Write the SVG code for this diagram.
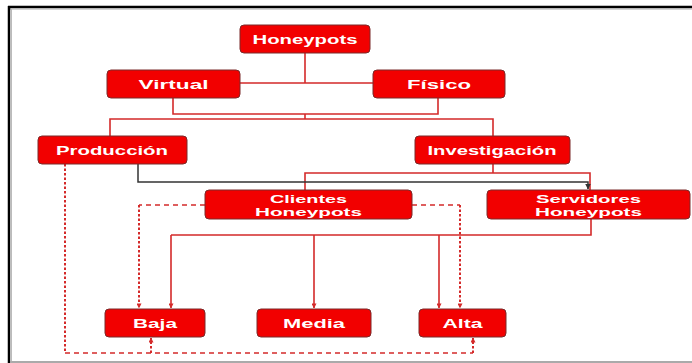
<svg xmlns="http://www.w3.org/2000/svg" width="692" height="363" viewBox="0 0 692 363">
<defs>
<marker id="ar" viewBox="0 0 6 6" refX="5.5" refY="3" markerWidth="5" markerHeight="5" orient="auto" markerUnits="userSpaceOnUse">
<path d="M0,0 L6,3 L0,6 z" fill="#d42a2a"/>
</marker>
<marker id="ak" viewBox="0 0 6 6" refX="5.5" refY="3" markerWidth="6" markerHeight="6" orient="auto" markerUnits="userSpaceOnUse">
<path d="M0,0 L6,3 L0,6 z" fill="#333"/>
</marker>
</defs>
<style>
.box{fill:#f20000;stroke:#7a2a2a;stroke-width:1}
.t{fill:#fff;font-family:"Liberation Sans",Arial,sans-serif;font-weight:bold;font-size:13px;text-anchor:middle}
.t2{fill:#fff;font-family:"Liberation Sans",Arial,sans-serif;font-weight:bold;font-size:11.5px;text-anchor:middle}
.s{fill:none;stroke:#d42a2a;stroke-width:1.6}
.k{fill:none;stroke:#333;stroke-width:1.5}
.dh{fill:none;stroke:#d42a2a;stroke-width:1.6;stroke-dasharray:5 4}
.dv{fill:none;stroke:#d42a2a;stroke-width:2;stroke-dasharray:2.5 2}
</style>
<rect width="692" height="363" fill="#fff"/>
<g id="frame">
<line x1="8" y1="7" x2="692" y2="7" stroke="#000" stroke-width="2.5"/>
<line x1="10" y1="9" x2="692" y2="9" stroke="#aaa" stroke-width="1"/>
<line x1="9" y1="6" x2="9" y2="363" stroke="#000" stroke-width="2.5"/>
<line x1="11.5" y1="9" x2="11.5" y2="363" stroke="#bbb" stroke-width="1"/>
<line x1="10" y1="362" x2="692" y2="362" stroke="#aaa" stroke-width="2"/>
</g>
<g id="connectors">
<path class="s" d="M305,53 V83 M240,83 H373"/>
<path class="s" d="M173,98 V114 H438 V98 M305,114 V119"/>
<path class="s" d="M110,136 V119 H493 V136"/>
<path class="s" d="M493,164 V173 M305,190 V173 H590 V190"/>
<path class="k" d="M138,164 V182 H588 V189" marker-end="url(#ak)"/>
<path class="s" d="M591,219 V235 H171"/>
<path class="s" d="M171,235 V308" marker-end="url(#ar)"/>
<path class="s" d="M314,235 V308" marker-end="url(#ar)"/>
<path class="s" d="M439,235 V308" marker-end="url(#ar)"/>
<path class="dh" d="M205,205 H139"/>
<path class="dv" d="M139,205 V308" marker-end="url(#ar)"/>
<path class="dh" d="M412,205 H460"/>
<path class="dv" d="M460,205 V308" marker-end="url(#ar)"/>
<path class="dv" d="M65,164 V353"/>
<path class="dh" d="M65,353 H473"/>
<path class="dv" d="M151,353 V338" marker-end="url(#ar)"/>
<path class="dv" d="M473,353 V338" marker-end="url(#ar)"/>
</g>
<g id="n-honeypots"><rect class="box" x="240" y="25" width="130" height="28" rx="4"/><text class="t" x="305" y="44" textLength="105" lengthAdjust="spacingAndGlyphs">Honeypots</text></g>
<g id="n-virtual"><rect class="box" x="107" y="70" width="133" height="28" rx="4"/><text class="t" x="173.5" y="89" textLength="70" lengthAdjust="spacingAndGlyphs">Virtual</text></g>
<g id="n-fisico"><rect class="box" x="373" y="70" width="132" height="28" rx="4"/><text class="t" x="439" y="89" textLength="64" lengthAdjust="spacingAndGlyphs">Físico</text></g>
<g id="n-produccion"><rect class="box" x="38" y="136" width="149" height="28" rx="4"/><text class="t" x="112" y="155" textLength="112" lengthAdjust="spacingAndGlyphs">Producción</text></g>
<g id="n-investigacion"><rect class="box" x="415" y="136" width="155" height="28" rx="4"/><text class="t" x="492" y="155" textLength="129" lengthAdjust="spacingAndGlyphs">Investigación</text></g>
<g id="n-clientes"><rect class="box" x="205" y="190" width="207" height="29" rx="4"/><text class="t2" x="308.5" y="202.5" textLength="77" lengthAdjust="spacingAndGlyphs">Clientes</text><text class="t2" x="308.5" y="215.5" textLength="107" lengthAdjust="spacingAndGlyphs">Honeypots</text></g>
<g id="n-servidores"><rect class="box" x="487" y="190" width="203" height="29" rx="4"/><text class="t2" x="588.5" y="202.5" textLength="105" lengthAdjust="spacingAndGlyphs">Servidores</text><text class="t2" x="588.5" y="215.5" textLength="107" lengthAdjust="spacingAndGlyphs">Honeypots</text></g>
<g id="n-baja"><rect class="box" x="105" y="309" width="100" height="28" rx="4"/><text class="t" x="155" y="328" textLength="44" lengthAdjust="spacingAndGlyphs">Baja</text></g>
<g id="n-media"><rect class="box" x="257" y="309" width="114" height="28" rx="4"/><text class="t" x="314" y="328" textLength="62" lengthAdjust="spacingAndGlyphs">Media</text></g>
<g id="n-alta"><rect class="box" x="419" y="309" width="87" height="28" rx="4"/><text class="t" x="462.5" y="328" textLength="40" lengthAdjust="spacingAndGlyphs">Alta</text></g>
</svg>
